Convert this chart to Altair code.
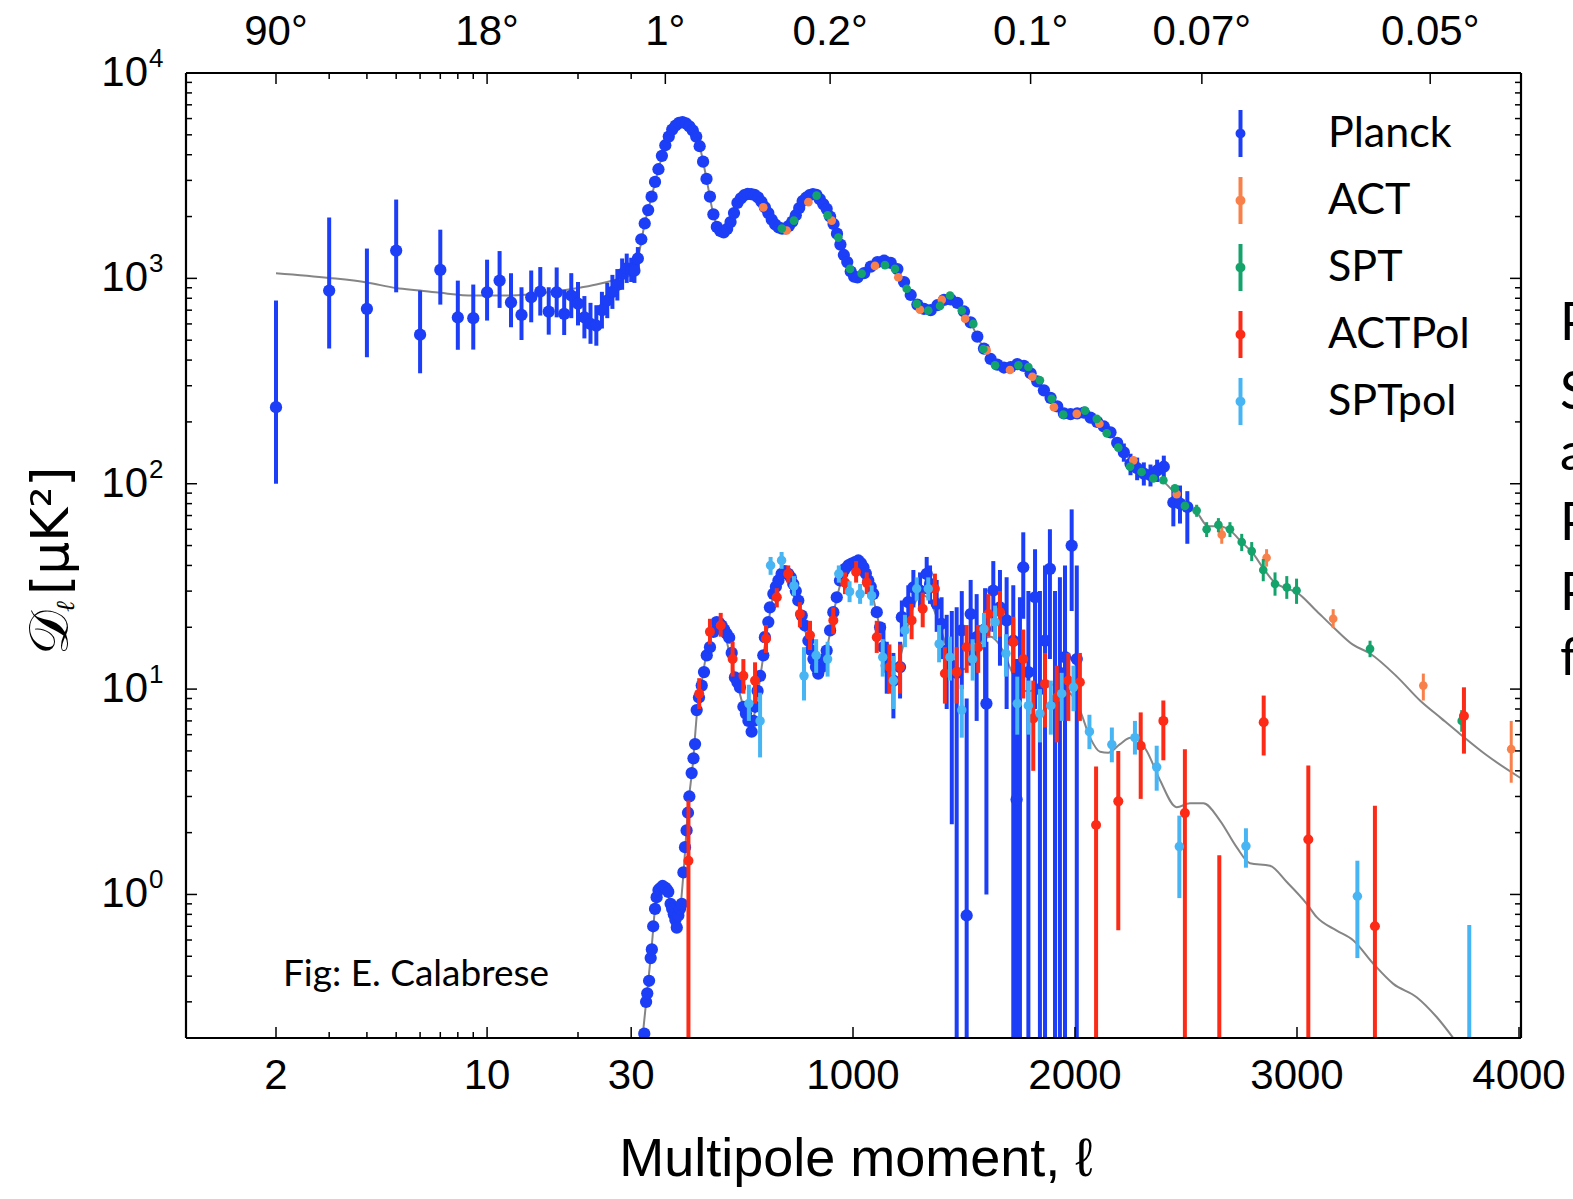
import altair as alt
import pandas as pd

# ------------------------------------------------------------------ data
surveys = ["Planck", "ACT", "SPT", "ACTPol", "SPTpol"]
colors = ["#1b3ef6", "#f8804a", "#14a36b", "#fb2b17", "#47b5f4"]

# Planck TT, low multipoles (ell, D, lo, hi)
planck_tt_low = [
    (2, 236, 100, 780), (3, 872, 455, 1980), (4, 710, 413, 1397), (5, 1366, 855, 2420),
    (6, 532, 345, 872), (7, 1099, 745, 1726), (8, 645, 449, 975), (9, 640, 450, 933),
    (10, 855, 623, 1233), (11, 975, 718, 1358), (12, 764, 578, 1059), (13, 664, 501, 905),
    (14, 809, 611, 1092), (15, 863, 659, 1135), (16, 689, 532, 905), (17, 855, 646, 1130),
    (18, 671, 530, 880), (19, 825, 640, 1060), (20, 754, 590, 960), (21, 646, 510, 820),
    (22, 600, 480, 760), (23, 589, 470, 740), (24, 700, 570, 860), (25, 780, 640, 950),
    (26, 860, 710, 1040), (27, 930, 780, 1110), (28, 1050, 880, 1250), (29, 1120, 950, 1320),
]

# Planck TT, binned (ell, D)
planck_tt_high = [
    (30, 1100), (45, 1090), (60, 1250), (75, 1550), (90, 1850), (105, 2150), (120, 2500),
    (135, 2950), (150, 3400), (165, 3950), (180, 4450), (195, 4900), (210, 5300), (225, 5550),
    (240, 5720), (255, 5760), (270, 5680), (285, 5500), (300, 5250), (315, 4900), (330, 4400),
    (345, 3700), (360, 3050), (375, 2500), (390, 2050), (405, 1780), (420, 1700), (435, 1675),
    (450, 1740), (465, 1880), (480, 2080), (495, 2330), (510, 2450), (525, 2540), (540, 2580),
    (555, 2570), (570, 2550), (585, 2480), (600, 2360), (615, 2220), (630, 2080), (645, 1930),
    (660, 1830), (675, 1770), (690, 1745), (705, 1750), (720, 1800), (735, 1890), (750, 2030),
    (765, 2200), (780, 2380), (795, 2470), (810, 2540), (825, 2575), (840, 2550), (855, 2430),
    (870, 2300), (885, 2180), (900, 2000), (915, 1840), (930, 1650), (945, 1460), (960, 1300),
    (975, 1200), (990, 1080), (1005, 1020), (1020, 1010), (1050, 1060), (1080, 1140),
    (1110, 1200), (1140, 1220), (1170, 1190), (1200, 1110), (1230, 960), (1260, 830),
    (1290, 745), (1320, 710), (1350, 700), (1380, 740), (1410, 785), (1440, 790), (1470, 760),
    (1500, 690), (1530, 610), (1560, 520), (1590, 455), (1620, 405), (1650, 380), (1680, 368),
    (1710, 370), (1740, 382), (1770, 375), (1800, 345), (1830, 315), (1860, 285), (1890, 262),
    (1920, 238), (1950, 220), (1980, 218), (2010, 220), (2040, 222), (2070, 210), (2100, 200),
    (2130, 190), (2160, 178), (2190, 158), (2220, 142), (2250, 125), (2280, 119), (2310, 112),
    (2340, 110), (2370, 116), (2400, 121), (2443, 81), (2473, 80), (2506, 77),
]
planck_tt_high_bars = [
    (30, 960, 1260), (45, 950, 1240), (60, 1100, 1420), (2220, 128, 157), (2250, 110, 140),
    (2280, 104, 134), (2310, 98, 127), (2340, 97, 124), (2370, 102, 131), (2400, 106, 137),
    (2443, 62, 96), (2473, 64, 98), (2506, 51, 92),
]

# Planck EE, well measured (ell, D)
planck_ee_low = [
    (88, 0.21), (96, 0.30), (101, 0.33), (109, 0.38), (116, 0.49), (121, 0.54), (127, 0.70),
    (135, 0.85), (142, 0.97), (150, 1.05), (157, 1.07), (168, 1.10), (179, 1.08), (186, 1.06),
    (193, 1.03), (203, 0.90), (210, 0.85), (217, 0.80), (224, 0.75), (230, 0.69), (237, 0.79),
    (244, 0.85), (252, 0.90), (259, 1.28), (266, 1.70), (273, 2.05), (279, 2.5), (285, 3.0),
    (295, 3.9), (303, 4.6), (310, 5.4), (317, 7.9), (327, 9.1), (339, 10.4), (349, 12.1),
    (361, 14.6), (375, 16.0), (390, 19.0), (404, 21.2), (415, 21.0), (426, 20.4), (437, 19.5),
    (448, 18.6), (459, 17.8), (470, 15.0), (484, 11.4), (495, 10.8), (506, 10.2), (521, 8.2),
    (532, 7.6), (543, 7.0), (557, 6.2), (565, 7.0), (572, 8.2), (583, 9.8), (594, 11.6),
    (608, 14.6), (615, 17.9), (630, 21.2), (637, 25.0), (652, 29.1), (663, 31.5), (674, 33.8),
    (688, 36.4), (702, 37.5), (717, 36.4), (728, 35.0), (739, 32.5), (750, 30.0), (761, 27.0),
    (776, 22.8), (790, 20.4), (805, 17.2), (816, 15.5), (827, 14.0), (838, 12.8), (848, 11.9),
    (863, 12.8), (874, 14.0), (885, 15.4), (900, 19.3), (914, 23.7), (929, 28.0), (943, 33.8),
    (954, 36.5), (965, 38.5), (980, 40.0), (994, 40.8), (1009, 41.5), (1024, 42.3), (1036, 41.0),
    (1047, 39.2), (1058, 36.5), (1069, 33.8), (1080, 31.5), (1091, 29.1), (1107, 23.7),
    (1122, 20.0),
]
# Planck EE, noisy high multipoles (ell, D, lo, hi)
planck_ee_high = [
    (1137, 16, 12, 21), (1152, 13, 9.5, 17), (1182, 11, 7.2, 15), (1212, 12.8, 9, 17),
    (1220, 22.4, 18, 27), (1249, 26.5, 21, 32), (1272, 31.3, 25, 38), (1302, 30.2, 24, 37),
    (1332, 36.4, 29, 44), (1347, 32.5, 26, 40), (1377, 26, 19, 34), (1399, 20.8, 14, 28),
    (1422, 15.4, 8, 23), (1445, 13, 2.2, 24), (1467, 12, 0.1, 25), (1490, 19.3, 10, 30),
    (1512, 0.79, 0.1, 9), (1530, 23.2, 13, 34), (1557, 17.9, 7, 29), (1595, 19.6, 8, 31),
    (1601, 8.5, 1.0, 17), (1632, 30.2, 19, 42), (1662, 25, 13, 38), (1692, 21.6, 8, 35),
    (1722, 17.2, 0.1, 32), (1737, 2.9, 0.1, 14), (1752, 12, 0.1, 28), (1767, 39.2, 22, 58),
    (1790, 12.1, 0.1, 30), (1820, 28, 8, 48), (1842, 10, 0.1, 30), (1865, 17.2, 0.1, 40),
    (1887, 38.5, 14, 60), (1910, 8.5, 0.1, 30), (1932, 12, 0.1, 35), (1955, 14.3, 0.1, 40),
    (1985, 50, 24, 75), (2008, 14, 0.1, 40),
]

# ACT TT (ell, D) and visible bars (ell, lo, hi)
act_tt = [
    (608, 2218), (710, 1710), (805, 2350), (907, 1911), (1099, 1150), (1204, 1012),
    (1302, 703), (1400, 786), (1505, 636), (1602, 446), (1707, 358), (1808, 332), (1905, 236),
    (2008, 219), (2110, 196), (2263, 130), (2458, 89), (2661, 56.5), (2863, 43.6), (3163, 22),
    (3569, 10.4), (3965, 5.1),
]
act_tt_bars = [(2661, 51, 62), (2863, 39.5, 48), (3163, 19.8, 24.5), (3569, 8.8, 11.9), (3965, 3.5, 7.0)]

# SPT TT
spt_tt = [
    (689, 1748), (742, 1911), (841, 2530), (889, 2030), (936, 1580), (987, 1112), (1039, 1055),
    (1144, 1160), (1189, 1112), (1242, 890), (1287, 751), (1339, 697), (1392, 734), (1437, 825),
    (1490, 697), (1542, 600), (1587, 453), (1640, 377), (1745, 377), (1790, 370), (1842, 319),
    (1895, 259), (1947, 217), (2045, 227), (2098, 207), (2143, 176), (2195, 150), (2248, 121),
    (2300, 114), (2353, 106), (2398, 104), (2450, 95), (2495, 78), (2548, 74), (2593, 60),
    (2646, 63), (2698, 60), (2751, 52), (2796, 47), (2848, 38), (2901, 32.5), (2954, 31.3),
    (2998, 30.2), (3329, 15.7), (3742, 7.0),
]
spt_tt_bars = [
    (2548, 69, 79), (2593, 55, 65), (2646, 58, 68), (2698, 55, 65), (2751, 47, 57),
    (2796, 42, 52), (2848, 33.5, 43), (2901, 28.5, 37), (2954, 27.5, 35.5), (2998, 26, 34.5),
    (3329, 14.3, 17.2), (3742, 6.2, 7.9),
]

# ACTPol (ell, D, lo, hi)
actpol_ee = [
    (281, 1.46, 0.1, 2.87), (328, 9.5, 8, 11.3), (375, 19, 16.5, 22), (422, 20.4, 18, 23.5),
    (474, 14, 11.5, 17), (521, 11.6, 9.5, 14), (572, 11, 8.5, 13.5), (620, 17.6, 15, 20.5),
    (667, 28, 25, 31), (717, 36.4, 33, 40), (768, 23.2, 20, 26.5), (812, 18.3, 15.5, 21.5),
    (914, 21.6, 18.5, 25), (965, 33, 29, 37), (1014, 37.2, 33, 42), (1062, 33, 29, 37),
    (1107, 17.9, 15, 21.5), (1164, 12.8, 9.5, 16.5), (1212, 12.8, 9.5, 16.5), (1264, 21.6, 17.5, 26),
    (1314, 24.6, 20, 29.5), (1369, 30.8, 25.5, 36.5), (1414, 11.9, 8.5, 16), (1467, 12.1, 8.5, 16),
    (1512, 16, 12, 20.5), (1564, 16, 12, 20.5), (1610, 23.2, 18, 29), (1662, 23.7, 18, 30),
    (1722, 16.9, 12, 22.5), (1767, 14, 9, 19.5), (1812, 7.2, 4, 11), (1865, 10.6, 6.5, 15),
    (1918, 9.1, 5.5, 13), (1970, 11, 7, 15), (2022, 10.8, 7, 15), (2095, 2.18, 0.1, 4.2),
    (2195, 2.84, 0.67, 5.0), (2296, 5.3, 2.92, 7.7), (2398, 7.0, 4.5, 8.8), (2495, 2.49, 0.1, 5.1),
    (2650, 0.1, 0.1, 1.55), (2850, 6.9, 4.75, 9.3), (3051, 1.85, 0.1, 4.25), (3351, 0.70, 0.1, 2.7),
    (3752, 7.4, 4.85, 10.2),
]

# SPTpol (ell, D, lo, hi)
sptpol_ee = [
    (545, 8.5, 7, 10.5), (594, 7.0, 4.65, 9.6), (640, 40, 36, 44), (688, 42.3, 38.5, 46.5),
    (742, 31.8, 28.5, 35.5), (786, 11.6, 8.8, 16), (839, 14.6, 12, 17.5), (889, 14, 11.5, 17),
    (938, 36.4, 33, 40), (985, 29.8, 26.5, 33.5), (1032, 29.1, 26, 32.5), (1084, 28.5, 25.5, 32),
    (1134, 14.3, 11.5, 17.5), (1182, 11, 8, 14.5), (1234, 19.3, 16, 23), (1287, 30.8, 27, 35),
    (1339, 30.8, 27, 35), (1388, 16.6, 13.5, 20.5), (1437, 14.3, 11, 18), (1490, 7.9, 5.8, 10.5),
    (1539, 14, 11, 17.5), (1590, 19.6, 16, 23.5), (1640, 21.2, 17.5, 25.5), (1689, 14.9, 11.5, 18.5),
    (1740, 8.5, 6, 11.5), (1790, 8.3, 6, 11), (1842, 7.6, 5.5, 10), (1891, 8.3, 6, 11),
    (1940, 9.5, 7, 12), (1993, 10.2, 7.8, 13), (2065, 6.2, 5.1, 7.5), (2166, 5.37, 4.4, 6.5),
    (2270, 5.8, 4.8, 7.0), (2368, 4.17, 3.2, 5.3), (2470, 1.71, 0.96, 2.42), (2770, 1.72, 1.35, 2.1),
    (3272, 0.98, 0.49, 1.46), (3776, 0.1, 0.1, 0.71),
]

# best-fit model curves (ell, D)
theory_tt = [
    (2, 1060), (3, 1005), (4, 955), (5, 897), (6, 872), (7, 850), (9, 825), (12, 825), (16, 855),
    (20, 897), (23, 933), (27, 990), (30, 1040), (60, 1250), (90, 1850), (120, 2500), (150, 3400),
    (180, 4450), (210, 5300), (240, 5720), (255, 5760), (270, 5680), (300, 5250), (330, 4400),
    (360, 3050), (390, 2050), (420, 1700), (435, 1675), (450, 1740), (480, 2080), (510, 2450),
    (540, 2580), (570, 2550), (600, 2360), (630, 2080), (660, 1830), (690, 1745), (720, 1800),
    (750, 2030), (780, 2380), (810, 2540), (825, 2575), (840, 2550), (870, 2300), (900, 2000),
    (930, 1650), (960, 1300), (990, 1080), (1020, 1010), (1050, 1060), (1080, 1140), (1110, 1200),
    (1140, 1220), (1170, 1190), (1200, 1110), (1230, 960), (1260, 830), (1290, 745), (1320, 710),
    (1350, 700), (1380, 740), (1410, 785), (1440, 790), (1470, 760), (1500, 690), (1530, 610),
    (1560, 520), (1590, 455), (1620, 405), (1650, 380), (1680, 368), (1710, 370), (1740, 382),
    (1770, 375), (1800, 345), (1830, 315), (1860, 285), (1890, 262), (1920, 238), (1950, 220),
    (1980, 218), (2010, 220), (2040, 222), (2070, 210), (2100, 200), (2130, 190), (2160, 178),
    (2190, 158), (2220, 142), (2250, 130), (2280, 119), (2310, 112), (2340, 107), (2370, 105),
    (2400, 102), (2430, 95), (2460, 88), (2490, 79), (2550, 72), (2600, 62), (2650, 62),
    (2700, 59), (2750, 52), (2800, 46), (2850, 38.5), (2900, 33), (2950, 31), (3000, 29.5),
    (3080, 24.5), (3164, 20), (3250, 16.5), (3329, 14.9), (3450, 11.5), (3554, 8.8), (3650, 7.2),
    (3734, 6.05), (3850, 4.8), (4005, 3.7),
]
theory_ee = [
    (78, 0.19), (100, 0.33), (120, 0.55), (140, 0.95), (160, 1.08), (180, 1.08), (200, 0.92),
    (220, 0.78), (240, 0.80), (260, 1.3), (280, 2.7), (300, 4.3), (320, 8.0), (340, 11),
    (360, 15), (380, 18.5), (400, 21), (420, 20.5), (440, 18.5), (460, 15), (480, 12), (500, 10),
    (520, 8.3), (540, 7.2), (555, 6.8), (570, 7.6), (590, 10.5), (610, 15), (630, 21), (650, 28),
    (670, 34), (690, 37), (710, 37.5), (730, 35), (750, 30), (770, 24), (790, 19.5), (810, 16),
    (830, 14), (850, 12.8), (870, 13.5), (890, 16.5), (910, 22), (930, 28), (950, 34),
    (970, 38.5), (990, 41), (1010, 41.5), (1030, 40.5), (1050, 37.5), (1070, 33), (1090, 28),
    (1110, 22.5), (1130, 18), (1150, 15), (1170, 13.5), (1190, 13.2), (1210, 14), (1230, 17),
    (1260, 23), (1290, 27.5), (1320, 28.5), (1350, 26.5), (1380, 22), (1410, 17.5), (1440, 14),
    (1470, 12.5), (1500, 12.5), (1530, 14), (1560, 16), (1590, 17.5), (1620, 18), (1650, 17),
    (1680, 15), (1710, 12.5), (1740, 10.8), (1770, 9.8), (1800, 9.8), (1830, 10.2), (1860, 10.6),
    (1890, 10.6), (1920, 10.2), (1950, 9.8), (1980, 9.5), (2022, 7.9), (2068, 5.8), (2113, 4.95),
    (2150, 4.9), (2203, 5.4), (2250, 5.8), (2290, 5.6), (2323, 5.0), (2383, 3.6), (2458, 2.66),
    (2518, 2.78), (2578, 2.78), (2653, 2.29), (2728, 1.70), (2788, 1.42), (2878, 1.38),
    (2954, 1.15), (3044, 0.90), (3089, 0.775), (3179, 0.667), (3254, 0.597), (3344, 0.46),
    (3434, 0.367), (3539, 0.316), (3629, 0.253), (3719, 0.19),
]

# axis ticks / labels
x_bottom_major = [2, 10, 30, 1000, 2000, 3000, 4000]
x_bottom_labels = ["2", "10", "30", "1000", "2000", "3000", "4000"]
x_minor = [3, 4, 5, 6, 7, 8, 9, 20]
x_top_major = [2, 10, 180, 900, 1800, 2571.43, 3600]
x_top_labels = ["90°", "18°", "1°", "0.2°", "0.1°", "0.07°", "0.05°"]
x_top_minor = [3, 4, 5, 6, 7, 8, 9, 20, 30]
y_major = [1, 10, 100, 1000, 10000]
y_exp = ["0", "1", "2", "3", "4"]
y_minor = [m * 10.0 ** k for k in range(-1, 4) for m in range(2, 10) if m * 10.0 ** k >= 0.2]

# ------------------------------------------------------------------ build
W, H = 1335, 965
AXF = "Liberation Sans"
XEXPR = ("datum.ell <= 30 ? 90 + 302*log(datum.ell/2)/LN10 : "
         "(datum.ell <= 1000 ? 445 + (datum.ell-30)*0.22887 : 667 + (datum.ell-1000)*0.222)")
XS = alt.Scale(domain=[0, W], nice=False, zero=False)
YS = alt.Scale(type="log", domain=[0.2, 10000], nice=False)
X = alt.X("u:Q", scale=XS, axis=None)

LEG_PATH = ("M-0.085,-1L0.085,-1L0.085,1L-0.085,1Z "
            "M0.21,0A0.21,0.21,0,1,1,-0.21,0A0.21,0.21,0,1,1,0.21,0Z")
legend = alt.Legend(orient="none", legendX=1031, legendY=37, title=None,
                    symbolType=LEG_PATH, symbolSize=2200, symbolStrokeWidth=0,
                    symbolOpacity=1, labelFont="Lato", labelFontSize=43,
                    labelOffset=64, rowPadding=20, padding=0, labelColor="black",
                    labelLimit=400)
FILL = alt.Fill("survey:N", scale=alt.Scale(domain=surveys, range=colors), legend=legend)


def c(df):
    return alt.Chart(df).transform_calculate(u=XEXPR)


pts = {s: [] for s in surveys}
bars = {s: [] for s in surveys}
for e, d, lo, hi in planck_tt_low:
    pts["Planck"].append((e, d)); bars["Planck"].append((e, lo, hi))
pts["Planck"] += planck_tt_high
bars["Planck"] += planck_tt_high_bars
pts["Planck"] += planck_ee_low
for e, d, lo, hi in planck_ee_high:
    pts["Planck"].append((e, d)); bars["Planck"].append((e, lo, hi))
pts["ACT"] += act_tt; bars["ACT"] += act_tt_bars
pts["SPT"] += spt_tt; bars["SPT"] += spt_tt_bars
for e, d, lo, hi in actpol_ee:
    pts["ACTPol"].append((e, d)); bars["ACTPol"].append((e, lo, hi))
for e, d, lo, hi in sptpol_ee:
    pts["SPTpol"].append((e, d)); bars["SPTpol"].append((e, lo, hi))

sizes = {"Planck": 150, "ACT": 75, "SPT": 75, "ACTPol": 100, "SPTpol": 90}
barw = {"Planck": 4, "ACT": 3, "SPT": 3, "ACTPol": 4, "SPTpol": 4}

layers = []
for name, data in [("TT", theory_tt), ("EE", theory_ee)]:
    df = pd.DataFrame(data, columns=["ell", "D"])
    layers.append(c(df).mark_line(color="#858585", strokeWidth=2, clip=True,
                                  interpolate="monotone").encode(
        x=X, y=alt.Y("D:Q", scale=YS, axis=None), order="ell:Q"))

for s, col in zip(surveys, colors):
    bdf = pd.DataFrame(bars[s], columns=["ell", "lo", "hi"])
    layers.append(c(bdf).mark_rule(color=col, strokeWidth=barw[s], clip=True).encode(
        x=X, y=alt.Y("lo:Q", scale=YS, axis=None), y2="hi:Q"))
    pdf = pd.DataFrame(pts[s], columns=["ell", "D"])
    pdf["survey"] = s
    layers.append(c(pdf).mark_circle(size=sizes[s], opacity=1, clip=True).encode(
        x=X, y=alt.Y("D:Q", scale=YS, axis=None), fill=FILL))


# ticks (inward, like the original)
def xticks(vals, top, length):
    df = pd.DataFrame({"ell": vals})
    y0, y1 = (0, length) if top else (H, H - length)
    return c(df).mark_rule(color="black", strokeWidth=1.5).encode(
        x=X, y=alt.value(y0), y2=alt.value(y1))


def yticks(vals, right, length):
    df = pd.DataFrame({"D": vals})
    x0, x1 = (W, W - length) if right else (0, length)
    return alt.Chart(df).mark_rule(color="black", strokeWidth=1.5).encode(
        y=alt.Y("D:Q", scale=YS, axis=None), x=alt.value(x0), x2=alt.value(x1))


layers += [xticks(x_bottom_major, False, 11), xticks(x_minor, False, 6),
           xticks(x_top_major, True, 11), xticks(x_top_minor, True, 6),
           yticks(y_major, False, 11), yticks(y_minor, False, 6),
           yticks(y_major, True, 11), yticks(y_minor, True, 6)]

# frame
frame = pd.DataFrame({"k": [0]})
for enc in [dict(x=alt.value(0), x2=alt.value(W), y=alt.value(0)),
            dict(x=alt.value(0), x2=alt.value(W), y=alt.value(H)),
            dict(x=alt.value(0), y=alt.value(0), y2=alt.value(H)),
            dict(x=alt.value(W), y=alt.value(0), y2=alt.value(H))]:
    layers.append(alt.Chart(frame).mark_rule(color="black", strokeWidth=2.2).encode(**enc))

# tick labels
bl = pd.DataFrame({"ell": x_bottom_major, "t": x_bottom_labels})
layers.append(c(bl).mark_text(font=AXF, fontSize=42, align="center", baseline="middle",
                              color="black").encode(x=X, y=alt.value(1003), text="t:N"))
tl = pd.DataFrame({"ell": x_top_major, "t": x_top_labels})
layers.append(c(tl).mark_text(font=AXF, fontSize=42, align="center", baseline="middle",
                              color="black").encode(x=X, y=alt.value(-41), text="t:N"))
yl = pd.DataFrame({"D": y_major, "e": y_exp, "b": ["10"] * 5})
layers.append(alt.Chart(yl).mark_text(font=AXF, fontSize=42, align="right", baseline="middle",
                                      color="black").encode(
    y=alt.Y("D:Q", scale=YS, axis=None), x=alt.value(-38), text="b:N"))
layers.append(alt.Chart(yl).mark_text(font=AXF, fontSize=26, align="left", baseline="middle",
                                      color="black", dy=-14).encode(
    y=alt.Y("D:Q", scale=YS, axis=None), x=alt.value(-37), text="e:N"))

# axis titles and annotations
one = pd.DataFrame({"k": [0]})
layers.append(alt.Chart(one).mark_text(text="Multipole moment, ℓ", font=AXF, fontSize=54,
                                       align="center", baseline="middle", color="black").encode(
    x=alt.value(670), y=alt.value(1087)))
layers.append(alt.Chart(one).mark_text(text="𝒟", font="DejaVu Serif", fontSize=56, angle=270,
                                       align="left", baseline="alphabetic", color="black").encode(
    x=alt.value(-118), y=alt.value(582)))
layers.append(alt.Chart(one).mark_text(text="ℓ", font="DejaVu Serif", fontStyle="italic",
                                       fontSize=26, angle=270, align="left",
                                       baseline="alphabetic", color="black").encode(
    x=alt.value(-112), y=alt.value(539)))
layers.append(alt.Chart(one).mark_text(text="[μK²]", font="DejaVu Sans", fontSize=52, angle=270,
                                       align="left", baseline="alphabetic", color="black").encode(
    x=alt.value(-118), y=alt.value(522)))
layers.append(alt.Chart(one).mark_text(text="Fig: E. Calabrese", font="Lato", fontSize=37,
                                       align="left", baseline="middle", color="black").encode(
    x=alt.value(97), y=alt.value(902)))
side_letters = ["P", "S", "a", "P", "P", "f"]
side_base = [267, 336, 397, 467, 537, 602]
for t, yb in zip(side_letters, side_base):
    layers.append(alt.Chart(one).mark_text(text=t, font="Lato", fontSize=52, align="left",
                                           baseline="alphabetic", color="black").encode(
        x=alt.value(1374), y=alt.value(yb)))

chart = alt.layer(*layers).properties(
    width=W, height=H,
    padding={"left": 186, "top": 73, "right": 52, "bottom": 161},
    autosize=alt.AutoSizeParams(type="none"),
    background="white",
).configure_view(stroke=None)

chart.save("out.html", embed_options={"renderer": "svg", "actions": False})
